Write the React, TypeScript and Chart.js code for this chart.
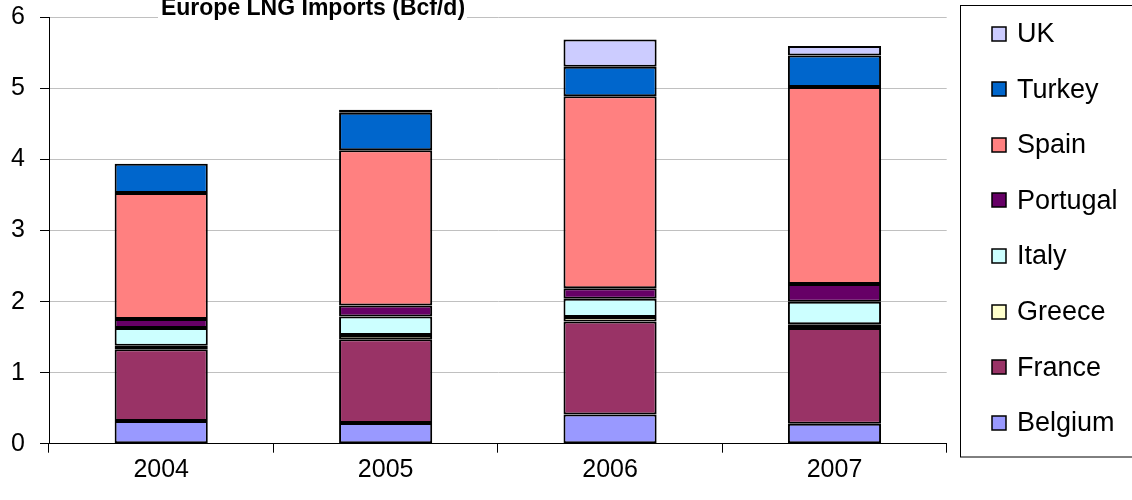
import React, { useEffect, useRef } from "react";
import { Chart, registerables } from "chart.js";

Chart.register(...registerables);

const years = ["2004", "2005", "2006", "2007"];
const belgium = [0.32, 0.29, 0.41, 0.28];
const france = [1.01, 1.18, 1.31, 1.35];
const greece = [0.05, 0.06, 0.065, 0.05];
const italy = [0.25, 0.26, 0.255, 0.32];
const portugal = [0.125, 0.155, 0.15, 0.25];
const spain = [1.775, 2.185, 2.7, 2.77];
const turkey = [0.41, 0.53, 0.415, 0.445];
const uk = [0, 0.04, 0.385, 0.135];
const yTicks = [0, 1, 2, 3, 4, 5, 6];
const title = "Europe LNG Imports (Bcf/d)";

const FONT = "'Liberation Sans', Arial, sans-serif";

const titlePlugin = {
  id: "cutTitle",
  afterDraw(chart: any) {
    const ctx = chart.ctx;
    ctx.save();
    ctx.fillStyle = "#ffffff";
    ctx.fillRect(158, 0, 309, 21);
    ctx.fillStyle = "#000000";
    ctx.font = `bold 23px ${FONT}`;
    ctx.textAlign = "center";
    ctx.textBaseline = "alphabetic";
    ctx.fillText(title, 313, 15);
    ctx.restore();
  },
};

const legendPlugin = {
  id: "boxLegend",
  afterDraw(chart: any) {
    const ctx = chart.ctx;
    const ds = chart.data.datasets.slice().reverse();
    ctx.save();
    ctx.strokeStyle = "#000000";
    ctx.lineWidth = 1;
    ctx.strokeRect(960.5, 5.5, 200, 451.5);
    ctx.font = `27px ${FONT}`;
    ctx.textBaseline = "middle";
    ctx.textAlign = "left";
    ds.forEach((d: any, i: number) => {
      const cy = 33.5 + i * 55.6;
      ctx.fillStyle = d.backgroundColor;
      ctx.fillRect(992, Math.round(cy - 7), 14, 14);
      ctx.strokeStyle = "#000000";
      ctx.lineWidth = 1.5;
      ctx.strokeRect(992, Math.round(cy - 7), 14, 14);
      ctx.fillStyle = "#000000";
      ctx.fillText(d.label, 1017, cy + 1);
    });
    ctx.restore();
  },
};

export default function App() {
  const ref = useRef<HTMLCanvasElement | null>(null);
  useEffect(() => {
    if (!ref.current) return;
    const mk = (label: string, data: number[], color: string) => ({
      label,
      data,
      backgroundColor: color,
      borderColor: "#000000",
      borderWidth: 2,
      borderSkipped: false,
      barPercentage: 0.415,
      categoryPercentage: 1,
    });
    const chart = new Chart(ref.current, {
      type: "bar",
      data: {
        labels: years,
        datasets: [
          mk("Belgium", belgium, "#9999FF"),
          mk("France", france, "#993366"),
          mk("Greece", greece, "#FFFFCC"),
          mk("Italy", italy, "#CCFFFF"),
          mk("Portugal", portugal, "#660066"),
          mk("Spain", spain, "#FF8080"),
          mk("Turkey", turkey, "#0066CC"),
          mk("UK", uk, "#CCCCFF"),
        ],
      },
      options: {
        responsive: false,
        animation: false,
        layout: { padding: { top: 17.5, right: 185.3, bottom: 0, left: 0 } },
        plugins: {
          legend: { display: false },
          title: { display: false },
          tooltip: { enabled: false },
        },
        scales: {
          x: {
            stacked: true,
            offset: true,
            afterFit: (s: any) => {
              s.height = 56.3;
              s.paddingLeft = 0;
              s.paddingRight = 0;
            },
            border: { display: true, color: "#000000", width: 1 },
            grid: {
              offset: true,
              drawOnChartArea: false,
              drawTicks: true,
              tickLength: 9,
              tickColor: "#000000",
            },
            ticks: {
              color: "#000000",
              font: { family: FONT, size: 25 },
              padding: 2,
              maxRotation: 0,
            },
          },
          y: {
            stacked: true,
            min: 0,
            max: 6,
            afterFit: (s: any) => {
              s.width = 49;
              s.paddingTop = 0;
              s.paddingBottom = 0;
            },
            afterBuildTicks: (s: any) => {
              s.ticks = yTicks.map((v) => ({ value: v }));
            },
            border: { display: true, color: "#000000", width: 1 },
            grid: {
              color: "#c0c0c0",
              lineWidth: 1,
              drawTicks: true,
              tickLength: 9,
              tickColor: "#000000",
            },
            ticks: {
              color: "#000000",
              font: { family: FONT, size: 25 },
              padding: 15,
            },
          },
        },
      },
      plugins: [titlePlugin, legendPlugin],
    });
    return () => chart.destroy();
  }, []);
  return (
    <div style={{ position: "absolute", left: 0, top: 0, width: 1132, height: 500, background: "#ffffff" }}>
      <canvas ref={ref} width={1132} height={500} style={{ display: "block" }} />
    </div>
  );
}
